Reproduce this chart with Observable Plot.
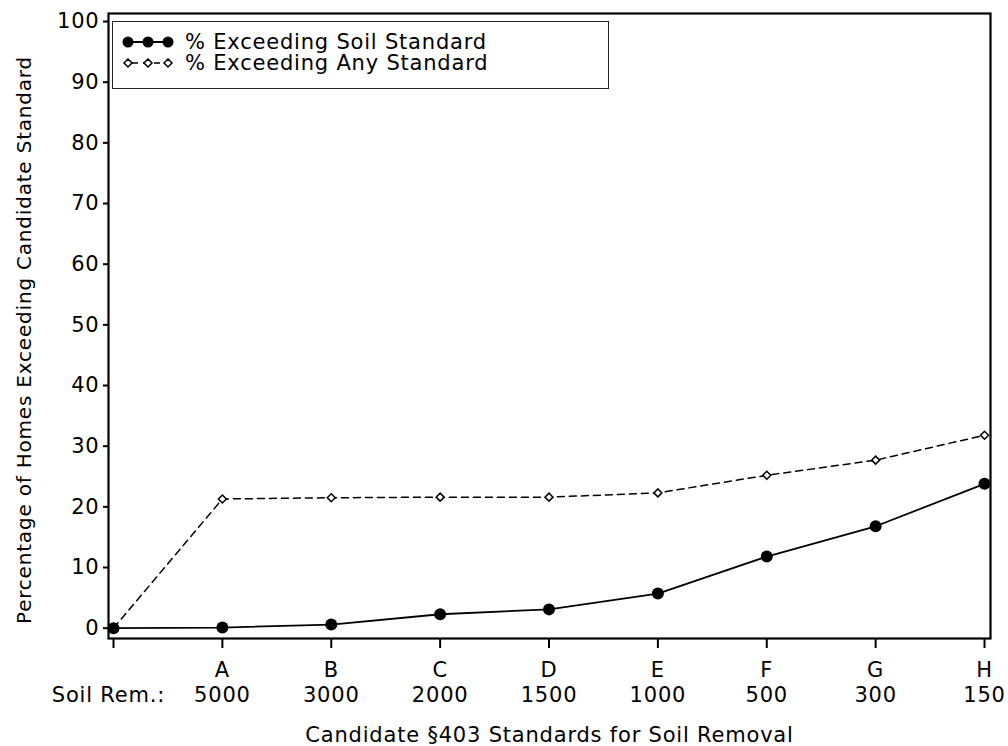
<!DOCTYPE html>
<html>
<head>
<meta charset="utf-8">
<script src="https://cdn.jsdelivr.net/npm/d3@7"></script>
<script src="https://cdn.jsdelivr.net/npm/@observablehq/plot@0.6"></script>
<style>
  html, body { margin: 0; padding: 0; background: #fff; }
  #wrap { position: relative; width: 1008px; height: 746px; font-family: "DejaVu Sans", sans-serif; }
  #wrap svg text { letter-spacing: 0.8px; }
  #legend { position: absolute; left: 112px; top: 21px; width: 495px; height: 66px; border: 1.5px solid #222; background: #fff; }
  .row { position: absolute; left: 0; height: 20px; display: flex; align-items: center; font-size: 21px; line-height: 20px; letter-spacing: 0.8px; color: #000; white-space: nowrap; }
  .row span { line-height: 20px; }
  .row svg { margin-left: 6px; margin-right: 8px; }
</style>
</head>
<body>
<div id="wrap"></div>
<script>
// ---- data ----
const idx = [0, 1, 2, 3, 4, 5, 6, 7, 8];
const letters = ["", "A", "B", "C", "D", "E", "F", "G", "H"];
const soilRem = ["", "5000", "3000", "2000", "1500", "1000", "500", "300", "150"];
const pctSoil = [0, 0.1, 0.6, 2.3, 3.1, 5.7, 11.8, 16.8, 23.8];
const pctAny = [0, 21.3, 21.5, 21.6, 21.6, 22.3, 25.2, 27.7, 31.8];
const yTicks = [0, 10, 20, 30, 40, 50, 60, 70, 80, 90, 100];
const seriesNames = ["% Exceeding Soil Standard", "% Exceeding Any Standard"];
const xTitle = "Candidate §403 Standards for Soil Removal";
const yTitle = "Percentage of Homes Exceeding Candidate Standard";
const rowLabel = "Soil Rem.:";

const soilData = idx.map(i => ({x: i, y: pctSoil[i]}));
const anyData = idx.map(i => ({x: i, y: pctAny[i]}));

const chart = Plot.plot({
  width: 1008,
  height: 746,
  marginLeft: 108,
  marginRight: 18,
  marginTop: 13,
  marginBottom: 108,
  style: {fontFamily: "DejaVu Sans, sans-serif", fontSize: "21px", color: "#000", background: "#fff"},
  x: {type: "linear", domain: [-0.046, 8.055], axis: null},
  y: {type: "linear", domain: [-1.70, 101.32], axis: null},
  marks: [
    Plot.axisY({ticks: yTicks, tickSize: 5, tickPadding: 4, fontSize: 21, strokeWidth: 2, tickFormat: d => String(d), label: null}),
    Plot.axisX({ticks: idx, tickSize: 10, tickPadding: 14, fontSize: 21, strokeWidth: 2, tickFormat: i => letters[i], label: null}),
    Plot.axisX({ticks: idx, tickSize: 0, tickPadding: 49, fontSize: 21, tickFormat: i => soilRem[i], label: null}),
    Plot.text([rowLabel], {text: d => d, frameAnchor: "bottom-left", dx: 0, dy: 57, lineAnchor: "middle", textAnchor: "middle", fontSize: 21}),
    Plot.text([xTitle], {text: d => d, frameAnchor: "bottom", dy: 96.5, lineAnchor: "middle", textAnchor: "middle", fontSize: 21}),
    Plot.text([yTitle], {text: d => d, frameAnchor: "left", dx: -84, dy: 14, rotate: -90, lineAnchor: "middle", textAnchor: "middle", fontSize: 20}),
    Plot.line(anyData, {x: "x", y: "y", stroke: "#000", strokeWidth: 1.5, strokeDasharray: "7,5"}),
    Plot.dot(anyData, {x: "x", y: "y", symbol: "diamond2", r: 3.6, stroke: "#000", strokeWidth: 1.5, fill: "#fff"}),
    Plot.line(soilData, {x: "x", y: "y", stroke: "#000", strokeWidth: 1.8}),
    Plot.dot(soilData, {x: "x", y: "y", r: 6, fill: "#000", stroke: "none"}),
    Plot.frame({stroke: "#000", strokeWidth: 2.2})
  ]
});

const wrap = document.getElementById("wrap");
wrap.appendChild(chart);

// legend overlay
const legend = document.createElement("div");
legend.id = "legend";
const solidSym = `<svg width="58" height="20" viewBox="0 0 58 20">
  <line x1="9" y1="10" x2="49" y2="10" stroke="#000" stroke-width="1.8"/>
  <circle cx="9" cy="10" r="5.5" fill="#000"/><circle cx="29" cy="10" r="5.5" fill="#000"/><circle cx="49" cy="10" r="5.5" fill="#000"/>
</svg>`;
const dashSym = `<svg width="58" height="20" viewBox="0 0 58 20">
  <line x1="9" y1="10" x2="49" y2="10" stroke="#000" stroke-width="1.5" stroke-dasharray="6,5" stroke-dashoffset="-4"/>
  <path d="M9,6 L13,10 L9,14 L5,10 Z M29,6 L33,10 L29,14 L25,10 Z M49,6 L53,10 L49,14 L45,10 Z" fill="#fff" stroke="#000" stroke-width="1.5"/>
</svg>`;
legend.innerHTML = `<div class="row" style="top:9.5px">${solidSym}<span>${seriesNames[0]}</span></div>
<div class="row" style="top:30.5px">${dashSym}<span>${seriesNames[1]}</span></div>`;
wrap.appendChild(legend);
</script>
</body>
</html>
